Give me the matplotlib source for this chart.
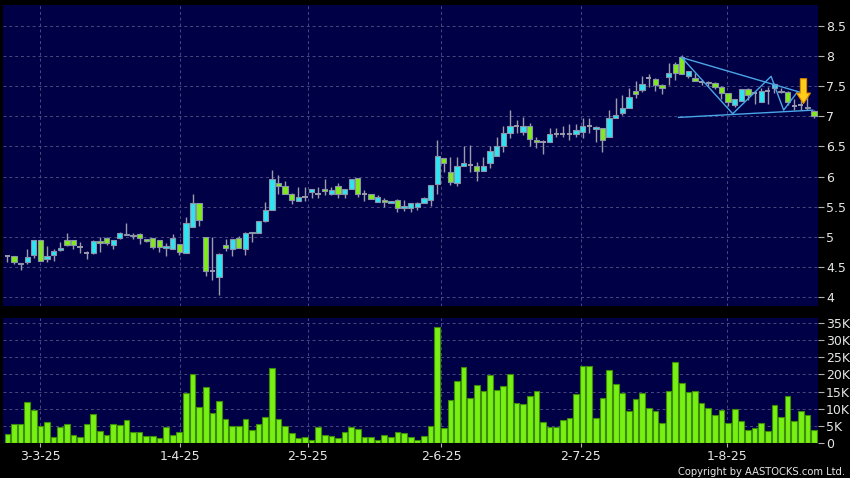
import matplotlib
matplotlib.use("Agg")
import matplotlib.pyplot as plt
import numpy as np

# ---------------- data ----------------
opens = [4.68, 4.68, 4.57, 4.58, 4.71, 4.95, 4.63, 4.71, 4.78, 4.95,
         4.95, 4.84, 4.73, 4.73, 4.93, 4.98, 4.87, 4.99, 5.03, 5.04,
         5.05, 4.97, 4.98, 4.95, 4.82, 4.81, 4.88, 4.73, 5.16, 5.56,
         5.00, 4.44, 4.34, 4.86, 4.80, 4.98, 4.81, 5.09, 5.06, 5.26,
         5.44, 5.89, 5.84, 5.72, 5.59, 5.67, 5.75, 5.72, 5.79, 5.72,
         5.85, 5.71, 5.79, 5.97, 5.72, 5.71, 5.58, 5.62, 5.57, 5.62,
         5.48, 5.48, 5.49, 5.57, 5.61, 5.88, 6.30, 6.08, 5.89, 6.17,
         6.20, 6.18, 6.10, 6.23, 6.34, 6.51, 6.72, 6.84, 6.74, 6.83,
         6.61, 6.57, 6.57, 6.71, 6.71, 6.71, 6.71, 6.74, 6.83, 6.78,
         6.80, 6.65, 6.97, 7.06, 7.13, 7.42, 7.43, 7.63, 7.61, 7.51,
         7.65, 7.87, 7.98, 7.67, 7.64, 7.57, 7.57, 7.55, 7.49, 7.38,
         7.18, 7.25, 7.45, 7.38, 7.24, 7.41, 7.46, 7.41, 7.40, 7.17,
         7.18, 7.13, 7.08]
highs = [4.71, 4.68, 4.57, 4.81, 4.95, 4.95, 4.85, 4.81, 4.91, 5.06,
         4.95, 4.91, 4.77, 4.95, 5.00, 5.00, 4.95, 5.09, 5.23, 5.06,
         5.06, 4.97, 4.98, 4.95, 4.90, 5.05, 4.88, 5.33, 5.71, 5.56,
         5.00, 5.00, 4.73, 4.97, 4.97, 5.02, 5.09, 5.09, 5.27, 5.58,
         6.11, 6.02, 5.93, 5.73, 5.82, 5.82, 5.80, 5.83, 5.96, 5.82,
         5.89, 5.80, 5.96, 5.97, 5.78, 5.72, 5.69, 5.64, 5.60, 5.63,
         5.61, 5.57, 5.58, 5.66, 5.86, 6.61, 6.30, 6.33, 6.32, 6.50,
         6.52, 6.25, 6.32, 6.51, 6.66, 6.84, 7.10, 6.94, 6.99, 6.89,
         6.65, 6.61, 6.80, 6.81, 6.83, 6.87, 6.87, 6.97, 6.97, 6.83,
         6.80, 7.10, 7.30, 7.35, 7.46, 7.58, 7.66, 7.70, 7.64, 7.53,
         7.88, 7.90, 8.01, 7.74, 7.71, 7.60, 7.58, 7.57, 7.50, 7.39,
         7.28, 7.45, 7.46, 7.41, 7.47, 7.49, 7.55, 7.46, 7.41, 7.29,
         7.33, 7.33, 7.10]
lows = [4.59, 4.55, 4.45, 4.56, 4.66, 4.60, 4.58, 4.60, 4.77, 4.85,
        4.80, 4.74, 4.63, 4.72, 4.76, 4.87, 4.81, 4.97, 5.03, 4.97,
        4.88, 4.92, 4.81, 4.75, 4.69, 4.81, 4.70, 4.73, 5.16, 5.19,
        4.35, 4.29, 4.04, 4.77, 4.69, 4.82, 4.71, 4.92, 5.06, 5.25,
        5.44, 5.71, 5.72, 5.55, 5.59, 5.59, 5.64, 5.64, 5.69, 5.69,
        5.64, 5.65, 5.79, 5.67, 5.60, 5.63, 5.58, 5.50, 5.57, 5.42,
        5.43, 5.41, 5.45, 5.57, 5.51, 5.72, 6.08, 5.86, 5.84, 6.17,
        6.08, 5.93, 6.10, 6.14, 6.34, 6.41, 6.64, 6.73, 6.69, 6.50,
        6.47, 6.37, 6.57, 6.65, 6.65, 6.61, 6.66, 6.64, 6.72, 6.58,
        6.41, 6.65, 6.97, 7.02, 7.13, 7.30, 7.40, 7.49, 7.41, 7.36,
        7.52, 7.60, 7.70, 7.63, 7.59, 7.52, 7.50, 7.45, 7.28, 7.17,
        7.15, 7.25, 7.27, 7.20, 7.24, 7.21, 7.38, 7.38, 7.19, 7.10,
        7.10, 7.10, 6.97]
closes = [4.68, 4.58, 4.56, 4.67, 4.95, 4.61, 4.68, 4.77, 4.82, 4.87,
          4.87, 4.84, 4.73, 4.93, 4.90, 4.90, 4.95, 5.06, 5.05, 5.02,
          4.98, 4.94, 4.83, 4.83, 4.85, 4.98, 4.76, 5.24, 5.57, 5.29,
          4.43, 4.44, 4.72, 4.82, 4.96, 4.82, 5.06, 5.06, 5.27, 5.44,
          5.96, 5.84, 5.72, 5.61, 5.67, 5.67, 5.79, 5.72, 5.77, 5.78,
          5.71, 5.79, 5.96, 5.72, 5.72, 5.63, 5.66, 5.58, 5.60, 5.48,
          5.51, 5.57, 5.57, 5.64, 5.86, 6.34, 6.22, 5.91, 6.17, 6.22,
          6.20, 6.10, 6.17, 6.43, 6.50, 6.73, 6.84, 6.84, 6.83, 6.62,
          6.57, 6.57, 6.70, 6.71, 6.71, 6.71, 6.77, 6.84, 6.83, 6.82,
          6.61, 6.97, 7.02, 7.13, 7.31, 7.36, 7.54, 7.63, 7.52, 7.46,
          7.71, 7.71, 7.70, 7.74, 7.59, 7.57, 7.55, 7.49, 7.38, 7.24,
          7.28, 7.45, 7.35, 7.38, 7.41, 7.41, 7.53, 7.40, 7.23, 7.17,
          7.18, 7.16, 7.00]
volumes_k = [2.7, 5.6, 5.5, 12.0, 9.6, 5.1, 6.3, 2.0, 4.7, 5.7,
             2.4, 2.0, 5.6, 8.4, 3.6, 2.5, 5.5, 5.4, 6.7, 3.2,
             3.4, 2.1, 2.3, 1.6, 4.8, 2.6, 3.3, 14.5, 20.2, 10.7,
             16.2, 8.9, 12.2, 7.2, 5.1, 5.0, 7.1, 3.9, 5.7, 7.6,
             21.8, 7.1, 5.1, 3.0, 1.6, 1.8, 1.0, 4.9, 2.6, 2.1,
             1.5, 3.3, 4.9, 4.1, 1.9, 1.9, 0.9, 2.6, 1.8, 3.2,
             3.0, 1.8, 1.0, 2.3, 5.1, 33.8, 4.5, 12.7, 18.2, 22.0,
             13.3, 17.0, 15.3, 19.8, 15.5, 16.6, 20.2, 11.8, 11.5, 13.7,
             15.3, 6.1, 4.8, 4.8, 6.9, 7.4, 14.3, 22.4, 22.4, 7.3,
             13.2, 21.3, 17.2, 14.7, 9.5, 12.9, 14.7, 10.4, 9.3, 5.9,
             15.3, 23.6, 17.6, 14.8, 15.2, 11.8, 10.2, 8.1, 9.7, 6.0,
             9.9, 6.6, 3.8, 4.6, 5.9, 3.6, 11.1, 7.6, 13.6, 6.5,
             9.3, 8.1, 3.8]

date_labels = ["3-3-25", "1-4-25", "2-5-25", "2-6-25", "2-7-25", "1-8-25"]
date_label_pos = [4.95, 26.1, 45.4, 65.6, 86.7, 108.9]

price_ticks = [4, 4.5, 5, 5.5, 6, 6.5, 7, 7.5, 8, 8.5]
price_tick_labels = ["4", "4.5", "5", "5.5", "6", "6.5", "7", "7.5", "8", "8.5"]
vol_ticks_k = [0, 5, 10, 15, 20, 25, 30, 35]
vol_tick_labels = ["0", "5K", "10K", "15K", "20K", "25K", "30K", "35K"]

# pattern annotation (bar index, price)
zigzag_x = [102.0, 109.7, 115.5, 117.4, 119.4]
zigzag_y = [7.97, 7.04, 7.66, 7.10, 7.39]
upper_line_x = [102.0, 120.4]
upper_line_y = [7.97, 7.38]
lower_line_x = [101.5, 121.8]
lower_line_y = [6.98, 7.10]
arrow_x = 120.4
arrow_top = 7.62
arrow_tip = 7.21

# ---------------- style ----------------
BG = "#000000"
PANEL = "#000046"
GRID = "#4a4a80"
UP = "#2ee3f2"
DOWN = "#80ea1c"
EDGE = "#8a93a8"
WICK = "#9b9bab"
VOL = "#78f014"
VOL_EDGE = "#3c8c08"
TXT = "#e6e6e6"

x = np.arange(len(opens))
o = np.array(opens); h = np.array(highs); l = np.array(lows); c = np.array(closes)
vol = np.array(volumes_k) * 1000

fig = plt.figure(figsize=(8.5, 4.78), dpi=100, facecolor=BG)
ax = fig.add_axes([0.004, 0.36, 0.958, 0.6295])
axv = fig.add_axes([0.004, 0.0722, 0.958, 0.2625], sharex=ax)

for a in (ax, axv):
    a.set_facecolor(PANEL)
    for s in a.spines.values():
        s.set_visible(False)
    a.yaxis.tick_right()
    a.tick_params(axis="y", direction="out", length=4, width=0.8, color="#b0b0b0",
                  labelcolor=TXT, labelsize=9, pad=2)
    a.set_axisbelow(True)
    a.grid(True, color=GRID, linestyle=(0, (3, 3)), linewidth=0.7)

# wicks
ax.vlines(x, l, h, color=WICK, linewidth=1.0, zorder=2)
# bodies
width = 0.8
up = c > o
dn = c < o
eq = c == o
ax.bar(x[up], (c - o)[up], bottom=o[up], width=width, color=UP,
       edgecolor=EDGE, linewidth=0.8, zorder=3)
ax.bar(x[dn], (o - c)[dn], bottom=c[dn], width=width, color=DOWN,
       edgecolor=EDGE, linewidth=0.8, zorder=3)
ax.hlines(o[eq], x[eq] - width / 2, x[eq] + width / 2, color=WICK, linewidth=1.4, zorder=3)

# pattern lines
ax.plot(zigzag_x, zigzag_y, color="#4aa6e6", linewidth=1.0, zorder=4)
ax.plot(upper_line_x, upper_line_y, color="#4aa6e6", linewidth=1.0, zorder=4)
ax.plot(lower_line_x, lower_line_y, color="#4aa6e6", linewidth=1.0, zorder=4)
ax.annotate("", xy=(arrow_x, arrow_tip), xytext=(arrow_x, arrow_top),
            arrowprops=dict(arrowstyle="simple,head_width=1.0,head_length=0.75,tail_width=0.45",
                            mutation_scale=10, fc="#ffcc1a", ec="#e08a00", lw=0.8,
                            shrinkA=0, shrinkB=0), zorder=5)

ax.set_ylim(3.86, 8.84)
ax.set_yticks(price_ticks)
ax.set_yticklabels(price_tick_labels)
ax.set_xlim(-0.6, 122.55)
ax.set_xticks(date_label_pos)
ax.tick_params(axis="x", length=0, labelbottom=False)

# volume
axv.bar(x, vol, width=0.86, color=VOL, edgecolor=VOL_EDGE, linewidth=0.8, zorder=3)
axv.set_ylim(0, 36300)
axv.set_yticks([v * 1000 for v in vol_ticks_k])
axv.set_yticklabels(vol_tick_labels)
axv.set_xticks(date_label_pos)
axv.set_xticklabels(date_labels)
axv.tick_params(axis="x", direction="out", length=3, width=0.8, color="#b0b0b0",
                labelcolor=TXT, labelsize=9, pad=2)

fig.text(0.994, 0.002, "Copyright by AASTOCKS.com Ltd.", ha="right", va="bottom",
         color=TXT, fontsize=7.2)

fig.savefig("out.png", dpi=100, facecolor=BG)
